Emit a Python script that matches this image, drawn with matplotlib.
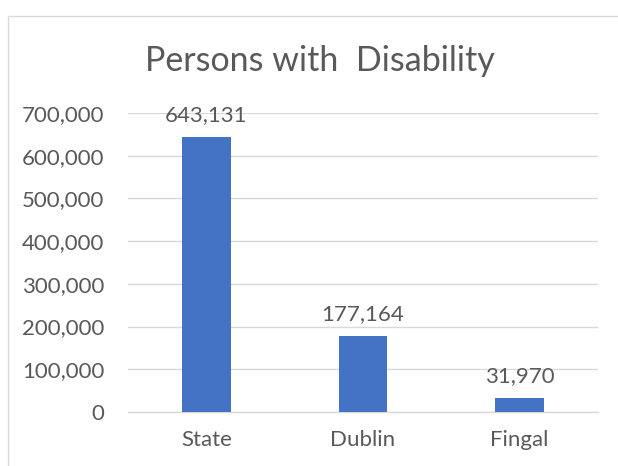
import matplotlib
matplotlib.use("Agg")
import matplotlib.pyplot as plt
from matplotlib.patches import Rectangle
from matplotlib.ticker import FuncFormatter

# data
categories = ["State", "Dublin", "Fingal"]
values = [643131, 177164, 31970]
title = "Persons with  Disability"

plt.rcParams['font.family'] = ['Lato', 'DejaVu Sans']
txt = "#595959"
W, H = 618, 466

fig = plt.figure(figsize=(W / 100, H / 100), dpi=100)
ax = fig.add_axes([128 / W, 1 - 412 / H, 470 / W, 299 / H])

x = range(len(categories))
ax.bar(x, values, width=0.31, color="#4472C4", zorder=3)
for xi, v in zip(x, values):
    ax.annotate(f"{v:,}", (xi, v), xytext=(0, 9), textcoords="offset points",
                ha="center", va="bottom", fontsize=16, color=txt)

ax.set_xlim(-0.5, 2.5)
ax.set_ylim(0, 700000)
ax.set_yticks(range(0, 700001, 100000))
ax.yaxis.set_major_formatter(FuncFormatter(lambda v, p: f"{int(v):,}"))
ax.set_xticks(list(x))
ax.set_xticklabels(categories)
ax.tick_params(axis="both", length=0, labelsize=16, labelcolor=txt)
ax.tick_params(axis="y", pad=17)
ax.tick_params(axis="x", pad=13)
ax.grid(axis="y", color="#D9D9D9", linewidth=1, zorder=0)
for s in ["top", "right", "left"]:
    ax.spines[s].set_visible(False)
ax.spines["bottom"].set_color("#D9D9D9")
ax.spines["bottom"].set_linewidth(1)

fig.text(320 / W, 1 - 61 / H, title, ha="center", va="center",
         fontsize=24.5, color=txt)

# chart border (only top and left visible)
fig.add_artist(Rectangle((8 / W, -0.1), 1.2, 1 - 16 / H + 0.1,
                         transform=fig.transFigure, fill=False,
                         edgecolor="#D9D9D9", linewidth=1))

fig.savefig("out.png", dpi=100)
